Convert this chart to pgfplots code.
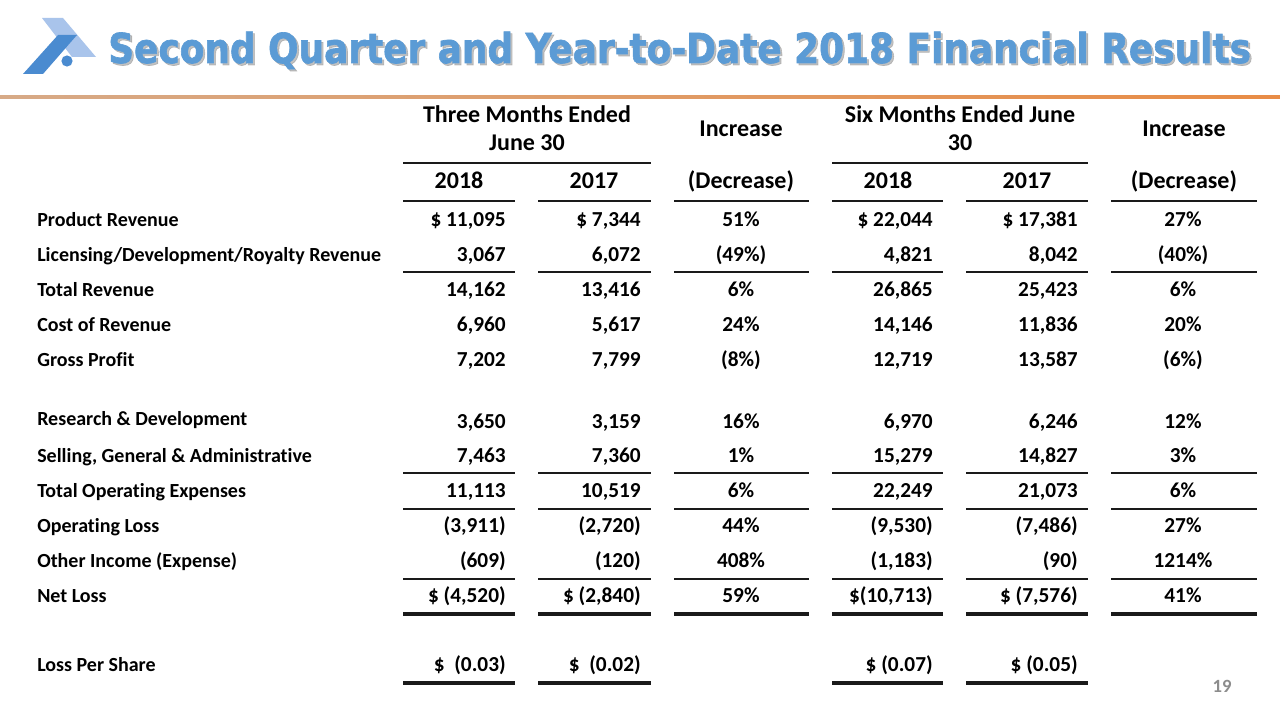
\documentclass[border=0pt]{standalone}
\usepackage{fontspec}
\setmainfont{Carlito}[Ligatures=NoCommon]
\newfontfamily\titlefont{DejaVu Sans}[BoldFeatures={FakeBold=1.6}]
\usepackage{graphicx}
\usepackage{pgfplots}
\pgfplotsset{compat=1.18}

\definecolor{titleblue}{HTML}{5B9BD5}
\definecolor{logolight}{HTML}{A9C4EB}
\definecolor{logodark}{HTML}{4A8BD0}
\definecolor{rulecol}{HTML}{1A1A1A}
\definecolor{pagegray}{HTML}{8C8C8C}

\newcommand{\lab}{\fontsize{15}{17}\selectfont\bfseries}
\newcommand{\val}{\fontsize{16}{18}\selectfont\bfseries}
\newcommand{\hdr}{\fontsize{18}{20}\selectfont\bfseries}

% #1 baseline y, #2 label, #3..#8 values
\newcommand{\datarow}[8]{%
  \node[anchor=base west,font=\lab,inner sep=0pt] at (axis cs:37,#1) {#2};
  \node[anchor=base east,font=\val,inner sep=0pt] at (axis cs:506,#1) {#3};
  \node[anchor=base east,font=\val,inner sep=0pt] at (axis cs:641,#1) {#4};
  \node[anchor=base,font=\val,inner sep=0pt] at (axis cs:741,#1) {#5};
  \node[anchor=base east,font=\val,inner sep=0pt] at (axis cs:933,#1) {#6};
  \node[anchor=base east,font=\val,inner sep=0pt] at (axis cs:1078,#1) {#7};
  \node[anchor=base,font=\val,inner sep=0pt] at (axis cs:1183,#1) {#8};
}
\newcommand{\fullrule}[2]{%
  \draw[rulecol,line width=#2] (axis cs:403,#1) -- (axis cs:515,#1);
  \draw[rulecol,line width=#2] (axis cs:538,#1) -- (axis cs:651,#1);
  \draw[rulecol,line width=#2] (axis cs:674,#1) -- (axis cs:809,#1);
  \draw[rulecol,line width=#2] (axis cs:832,#1) -- (axis cs:943,#1);
  \draw[rulecol,line width=#2] (axis cs:966,#1) -- (axis cs:1088,#1);
  \draw[rulecol,line width=#2] (axis cs:1111,#1) -- (axis cs:1257,#1);
}

\begin{document}
\begin{tikzpicture}
\begin{axis}[
  width=960pt, height=540pt, scale only axis,
  xmin=0, xmax=1280, ymin=0, ymax=720, y dir=reverse,
  axis lines=none, clip=false]
\fill[white] (axis cs:0,0) rectangle (axis cs:1280,720);

% logo
\fill[logolight] (axis cs:42,18) -- (axis cs:63,18) -- (axis cs:96,57) -- (axis cs:72,57) -- cycle;
\fill[logodark] (axis cs:23,74) -- (axis cs:43,74) -- (axis cs:77,35) -- (axis cs:58,35) -- cycle;
\fill[logodark] (axis cs:67,61) circle[radius=4.2pt];

% title with shadow
\node[anchor=base west,inner sep=0pt,text=black!40,opacity=0.6] at (axis cs:110,65)
  {\resizebox{857pt}{23.5pt}{\titlefont\bfseries Second Quarter and Year-to-Date 2018 Financial Results}};
\node[anchor=base west,inner sep=0pt,text=titleblue] at (axis cs:108,63)
  {\resizebox{857pt}{23.5pt}{\titlefont\bfseries Second Quarter and Year-to-Date 2018 Financial Results}};

% orange rule
\shade[left color={rgb,255:red,215;green,170;blue,135},right color={rgb,255:red,232;green,140;blue,70}]
  (axis cs:0,96) rectangle (axis cs:1280,98.5);

% headers
\node[anchor=base,font=\hdr,inner sep=0pt] at (axis cs:527,123) {Three Months Ended};
\node[anchor=base,font=\hdr,inner sep=0pt] at (axis cs:527,151) {June 30};
\node[anchor=base,font=\hdr,inner sep=0pt] at (axis cs:741,137) {Increase};
\node[anchor=base,font=\hdr,inner sep=0pt] at (axis cs:960,123) {Six Months Ended June};
\node[anchor=base,font=\hdr,inner sep=0pt] at (axis cs:960,151) {30};
\node[anchor=base,font=\hdr,inner sep=0pt] at (axis cs:1184,137) {Increase};
\draw[rulecol,line width=0.9pt] (axis cs:403,163) -- (axis cs:651,163);
\draw[rulecol,line width=0.9pt] (axis cs:832,163) -- (axis cs:1088,163);
\node[anchor=base,font=\hdr,inner sep=0pt] at (axis cs:459,189) {2018};
\node[anchor=base,font=\hdr,inner sep=0pt] at (axis cs:594,189) {2017};
\node[anchor=base,font=\hdr,inner sep=0pt] at (axis cs:741,189) {(Decrease)};
\node[anchor=base,font=\hdr,inner sep=0pt] at (axis cs:888,189) {2018};
\node[anchor=base,font=\hdr,inner sep=0pt] at (axis cs:1027,189) {2017};
\node[anchor=base,font=\hdr,inner sep=0pt] at (axis cs:1184,189) {(Decrease)};
\fullrule{201}{0.9pt}

% rows
\datarow{226.5}{Product Revenue}{\$ 11,095}{\$ 7,344}{51\%}{\$ 22,044}{\$ 17,381}{27\%}
\datarow{261.5}{Licensing/Development/Royalty Revenue}{3,067}{6,072}{(49\%)}{4,821}{8,042}{(40\%)}
\fullrule{272}{0.9pt}
\datarow{296.5}{Total Revenue}{14,162}{13,416}{6\%}{26,865}{25,423}{6\%}
\datarow{331.5}{Cost of Revenue}{6,960}{5,617}{24\%}{14,146}{11,836}{20\%}
\datarow{366.5}{Gross Profit}{7,202}{7,799}{(8\%)}{12,719}{13,587}{(6\%)}
\node[anchor=base west,font=\lab,inner sep=0pt] at (axis cs:37,425.5) {Research \& Development};
\datarow{428}{}{3,650}{3,159}{16\%}{6,970}{6,246}{12\%}
\datarow{462}{Selling, General \& Administrative}{7,463}{7,360}{1\%}{15,279}{14,827}{3\%}
\fullrule{473}{0.9pt}
\datarow{497.5}{Total Operating Expenses}{11,113}{10,519}{6\%}{22,249}{21,073}{6\%}
\fullrule{509}{0.9pt}
\datarow{532.5}{Operating Loss}{(3,911)}{(2,720)}{44\%}{(9,530)}{(7,486)}{27\%}
\datarow{567.5}{Other Income (Expense)}{(609)}{(120)}{408\%}{(1,183)}{(90)}{1214\%}
\fullrule{579}{0.9pt}
\datarow{602.5}{Net Loss}{\$ (4,520)}{\$ (2,840)}{59\%}{\$(10,713)}{\$ (7,576)}{41\%}
\fullrule{614}{3pt}
\datarow{671}{Loss Per Share}{\$\ \ (0.03)}{\$\ \ (0.02)}{}{\$ (0.07)}{\$ (0.05)}{}
\draw[rulecol,line width=3pt] (axis cs:403,683) -- (axis cs:515,683);
\draw[rulecol,line width=3pt] (axis cs:538,683) -- (axis cs:651,683);
\draw[rulecol,line width=3pt] (axis cs:832,683) -- (axis cs:943,683);
\draw[rulecol,line width=3pt] (axis cs:966,683) -- (axis cs:1088,683);

% page number
\node[anchor=base,font=\fontsize{14}{16}\selectfont\bfseries,text=pagegray,inner sep=0pt] at (axis cs:1222,692) {19};
\end{axis}
\end{tikzpicture}
\end{document}
